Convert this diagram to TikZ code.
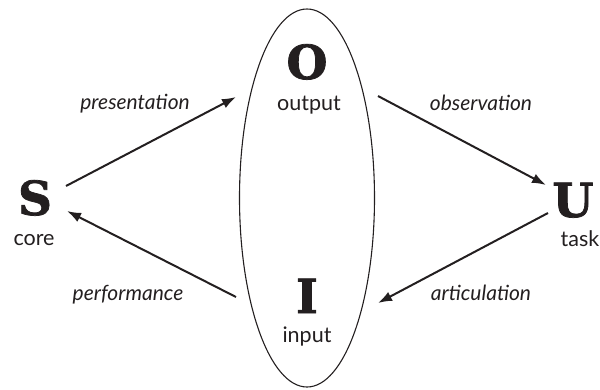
\documentclass[tikz,border=0pt]{standalone}
\usepackage{fontspec}
\setmainfont{Lato}
\newfontfamily\slabfont{DejaVu Serif}[BoldFeatures={FakeBold=1.6}]
\usetikzlibrary{arrows.meta,shapes.geometric}
\definecolor{ink}{HTML}{231F20}
\begin{document}
\begin{tikzpicture}[x=1pt,y=-1pt,
  big/.style={font=\fontsize{47}{47}\selectfont\slabfont\bfseries, text=ink, inner sep=0pt, anchor=base},
  lab/.style={font=\fontsize{21.5}{21.5}\selectfont, text=ink, inner sep=0pt, anchor=base},
  arrlab/.style={font=\fontsize{21}{21}\selectfont\itshape, text=ink, inner sep=0pt, anchor=base},
  conn/.style={draw=ink, line width=2pt, -{Latex[length=14pt,width=10pt]}},
  oval/.style={ellipse, draw=ink, line width=1.1pt, inner sep=0pt, minimum width=135pt, minimum height=378pt}]
\useasboundingbox (0,0) rectangle (600,389);
\node[oval] (E) at (307,198) {};
\node[big] (S) at (35,215) {S};
\node[big] (U) at (573,217) {U};
\node[big] (O) at (307,79) {O};
\node[big] (I) at (307,313) {I};
\node[lab] (core) at (34,245) {core};
\node[lab] (task) at (580,246) {task};
\node[lab] (output) at (309,110) {output};
\node[lab] (input) at (307,342) {input};
\node[arrlab] (lp) at (135,109) {presentation};
\node[arrlab] (lo) at (481,110) {observation};
\node[arrlab] (la) at (481,300) {articulation};
\node[arrlab] (lf) at (128,300) {performance};
\coordinate (p1) at (66,186);
\coordinate (p2) at (236,97);
\coordinate (o1) at (378,96);
\coordinate (o2) at (546,185);
\coordinate (a1) at (548,213);
\coordinate (a2) at (378,303);
\coordinate (f1) at (236,297);
\coordinate (f2) at (67,211);
\draw[conn] (p1) -- (p2);
\draw[conn] (o1) -- (o2);
\draw[conn] (a1) -- (a2);
\draw[conn] (f1) -- (f2);
\end{tikzpicture}
\end{document}
